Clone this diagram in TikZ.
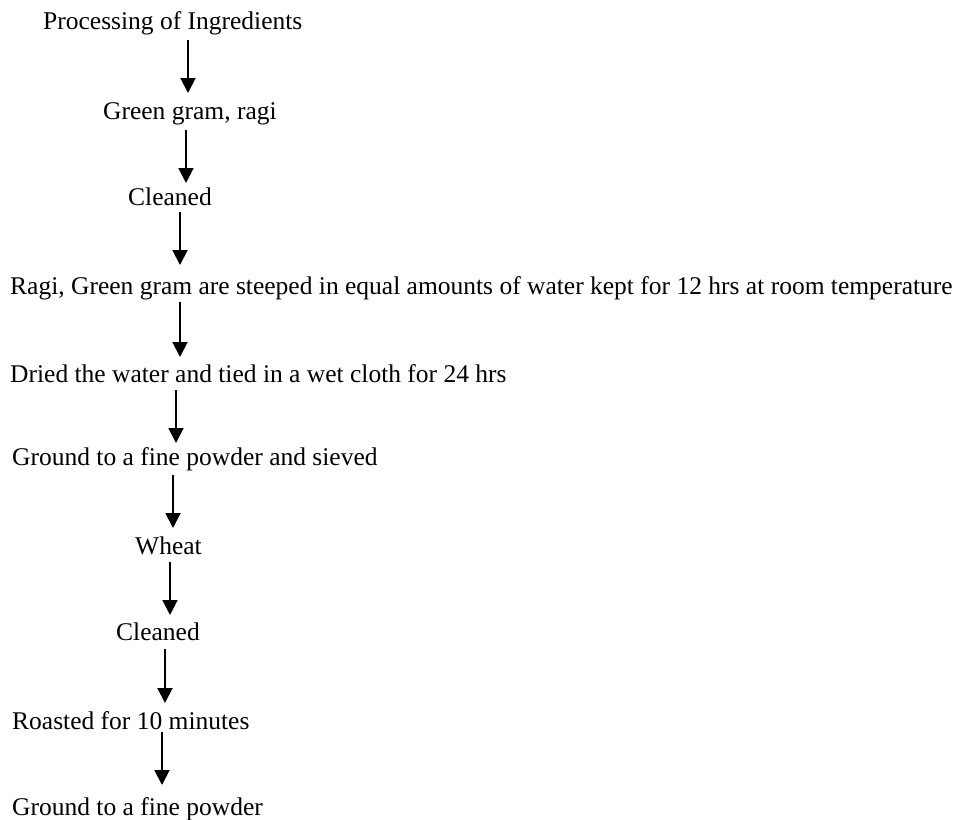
\documentclass[tikz,border=0pt]{standalone}
\usepackage{fontspec}
\setmainfont{Liberation Serif}
\usetikzlibrary{arrows.meta}
\begin{document}
\begin{tikzpicture}[x=1pt,y=-1pt,
  lbl/.style={anchor=base west,inner sep=0pt,font=\fontsize{25.5}{30}\selectfont},
  arr/.style={line width=1.9pt,-{Triangle[width=15pt,length=15pt]}}]
\useasboundingbox[fill=white] (0,0) rectangle (954,820);
\node[lbl] (n1) at (43,29) {Processing of Ingredients};
\node[lbl] (n2) at (103,119) {Green gram, ragi};
\node[lbl] (n3) at (128,205) {Cleaned};
\node[lbl] (n4) at (10,294) {Ragi, Green gram are steeped in equal amounts of water kept for 12 hrs at room temperature};
\node[lbl] (n5) at (10,382) {Dried the water and tied in a wet cloth for 24 hrs};
\node[lbl] (n6) at (12,465) {Ground to a fine powder and sieved};
\node[lbl] (n7) at (135,554) {Wheat};
\node[lbl] (n8) at (116,640) {Cleaned};
\node[lbl] (n9) at (12,729) {Roasted for 10 minutes};
\node[lbl] (n10) at (12,815) {Ground to a fine powder};
\coordinate (a1s) at (188,40);  \coordinate (a1e) at (188,93);
\coordinate (a2s) at (186,130); \coordinate (a2e) at (186,183);
\coordinate (a3s) at (180,212); \coordinate (a3e) at (180,265);
\coordinate (a4s) at (180,302); \coordinate (a4e) at (180,357);
\coordinate (a5s) at (176,390); \coordinate (a5e) at (176,443);
\coordinate (a6s) at (173,475); \coordinate (a6e) at (173,528);
\coordinate (a7s) at (170,562); \coordinate (a7e) at (170,615);
\coordinate (a8s) at (165,649); \coordinate (a8e) at (165,703);
\coordinate (a9s) at (162,732); \coordinate (a9e) at (162,785);
\foreach \i in {1,...,9} \draw[arr] (a\i s) -- (a\i e);
\end{tikzpicture}
\end{document}
